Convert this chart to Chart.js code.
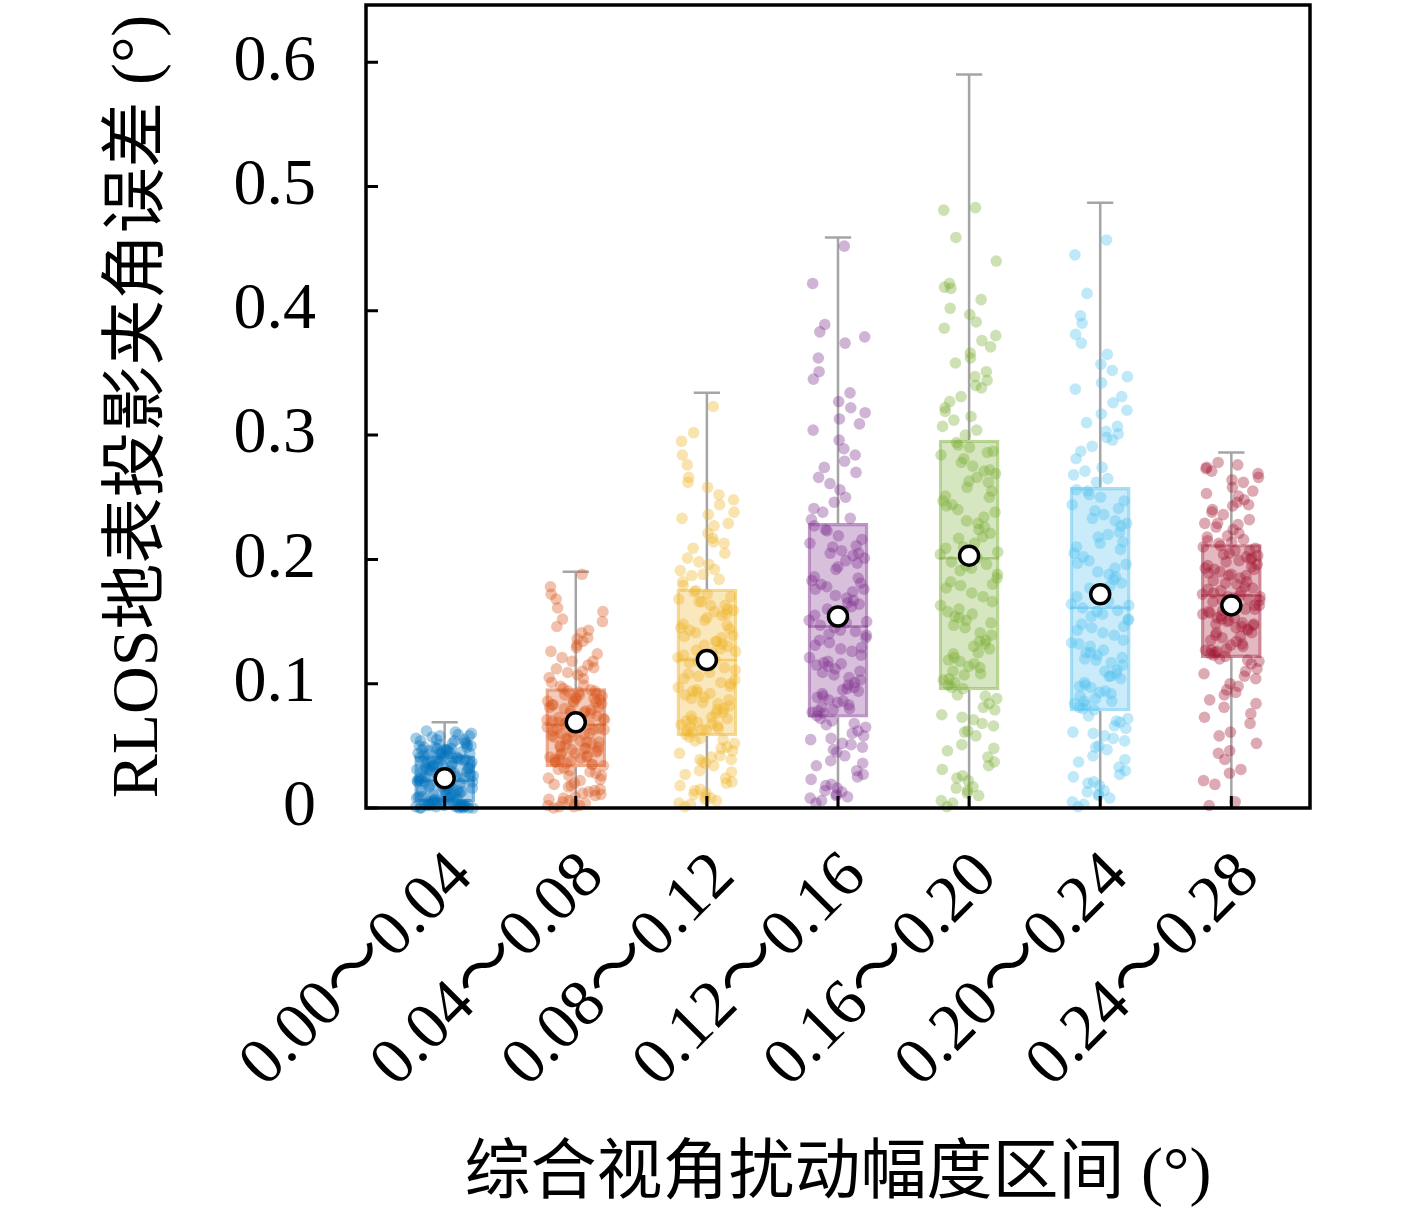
<!DOCTYPE html>
<html lang="zh">
<head>
<meta charset="UTF-8">
<title>RLOS地表投影夹角误差</title>
<script src="https://cdn.jsdelivr.net/npm/chart.js"></script>
<style>
    body { margin: 0; background: #fff; }
    #wrap { width: 1417px; height: 1217px; }
</style>
</head>
<body>
<div id="wrap"><canvas id="boxChart"></canvas></div>
<script>
    // categories (perturbation ranges) and box statistics
    const categories = ['0.00～0.04', '0.04～0.08', '0.08～0.12', '0.12～0.16', '0.16～0.20', '0.20～0.24', '0.24～0.28'];
    const yTicks = [0, 0.1, 0.2, 0.3, 0.4, 0.5, 0.6];
    const q1 = [0.005, 0.033, 0.058, 0.073, 0.095, 0.078, 0.121];
    const medians = [0.022, 0.067, 0.119, 0.146, 0.201, 0.161, 0.171];
    const q3 = [0.042, 0.096, 0.176, 0.229, 0.296, 0.258, 0.212];
    const whiskerLow = [0, 0, 0, 0, 0, 0, 0];
    const whiskerHigh = [0.069, 0.190, 0.334, 0.459, 0.590, 0.487, 0.286];
    const means = [0.024, 0.069, 0.119, 0.154, 0.203, 0.172, 0.163];

    // individual samples (estimated from the scattered dots)
    const pts1 = [0.001,0.034,0.003,0.052,0.018,0.000,0.041,0.007,0.027,0.046,0.002,0.013,0.058,0.021,0.004,0.037,0.049,0.010,0.030,0.001,0.055,0.016,0.044,0.005,0.024,
        0.039,0.000,0.061,0.011,0.032,0.047,0.003,0.020,0.043,0.008,0.036,0.002,0.053,0.026,0.014,0.040,0.004,0.050,0.019,0.031,0.001,0.045,0.009,0.028,0.057,
        0.003,0.023,0.042,0.012,0.035,0.000,0.048,0.017,0.038,0.005,0.054,0.025,0.006,0.044,0.015,0.033,0.002,0.051,0.022,0.040,0.004,0.029,0.047,0.009,0.059,
        0.001,0.037,0.019,0.043,0.003,0.026,0.050,0.012,0.034,0.000,0.046,0.021,0.039,0.005,0.056,0.016,0.030,0.002,0.042,0.024,0.008,0.049,0.035,0.004,0.062,
        0.002,0.027,0.044,0.006,0.033,0.051,0.013,0.038,0.000,0.048,0.021,0.030,0.003,0.055,0.017,0.041,0.001,0.035,0.058,0.010,0.025,0.045,0.004,0.031,0.052,
        0.019,0.039,0.002,0.047,0.014,0.028,0.060,0.008,0.036,0.000,0.043,0.023,0.054,0.005,0.032,0.018,0.049,0.003,0.040,0.026,0.011,0.046,0.001,0.034,0.022];
    const pts2 = [0.071,0.012,0.098,0.045,0.003,0.083,0.137,0.056,0.026,0.091,0.064,0.118,0.038,0.007,0.077,0.152,0.049,0.088,0.019,0.060,0.109,0.034,0.072,0.001,0.094,
        0.058,0.126,0.041,0.080,0.015,0.066,0.168,0.052,0.030,0.086,0.104,0.044,0.074,0.009,0.062,0.143,0.036,0.090,0.022,0.069,0.113,0.047,0.081,0.004,0.096,
        0.053,0.131,0.039,0.076,0.017,0.063,0.188,0.050,0.028,0.085,0.101,0.042,0.068,0.011,0.093,0.146,0.035,0.078,0.024,0.059,0.121,0.046,0.089,0.000,0.067,
        0.055,0.158,0.040,0.073,0.014,0.061,0.178,0.048,0.032,0.087,0.107,0.037,0.079,0.006,0.065,0.134,0.043,0.092,0.020,0.070,0.115,0.051,0.084,0.002,0.161,
        0.063,0.018,0.105,0.048,0.005,0.081,0.129,0.057,0.029,0.094,0.072,0.141,0.039,0.010,0.086,0.172,0.053,0.091,0.023,0.066,0.112,0.035,0.076,0.002,0.099,
        0.060,0.124,0.044,0.083,0.013,0.069,0.150,0.054,0.031,0.088,0.118,0.041,0.078,0.008,0.064,0.136,0.037,0.095,0.026,0.071,0.110,0.049,0.085,0.001,0.058];
    const pts3 = [0.121,0.034,0.187,0.072,0.009,0.148,0.252,0.095,0.046,0.163,0.108,0.213,0.063,0.018,0.134,0.302,0.082,0.172,0.027,0.101,0.198,0.052,0.125,0.003,0.156,
        0.089,0.233,0.066,0.141,0.039,0.114,0.276,0.077,0.056,0.168,0.192,0.061,0.130,0.012,0.104,0.244,0.069,0.159,0.041,0.117,0.205,0.085,0.145,0.006,0.174,
        0.098,0.221,0.059,0.137,0.030,0.111,0.323,0.074,0.049,0.151,0.182,0.064,0.127,0.021,0.092,0.262,0.080,0.166,0.044,0.119,0.209,0.087,0.153,0.001,0.128,
        0.106,0.238,0.068,0.143,0.024,0.115,0.295,0.079,0.054,0.170,0.196,0.062,0.132,0.015,0.097,0.227,0.071,0.160,0.036,0.123,0.184,0.093,0.139,0.008,0.266,
        0.113,0.037,0.191,0.076,0.011,0.144,0.258,0.091,0.048,0.166,0.103,0.217,0.065,0.020,0.131,0.284,0.084,0.175,0.029,0.109,0.201,0.055,0.122,0.004,0.158,
        0.094,0.229,0.063,0.138,0.042,0.118,0.248,0.073,0.057,0.163,0.188,0.067,0.134,0.014,0.100,0.236,0.070,0.155,0.039,0.126,0.214,0.088,0.147,0.007,0.179];
    const pts4 = [0.151,0.042,0.238,0.094,0.011,0.186,0.334,0.118,0.058,0.207,0.135,0.284,0.079,0.023,0.169,0.389,0.103,0.219,0.034,0.126,0.261,0.065,0.158,0.006,0.197,
        0.112,0.304,0.083,0.178,0.049,0.143,0.362,0.097,0.070,0.213,0.250,0.076,0.164,0.016,0.131,0.322,0.087,0.201,0.052,0.147,0.270,0.107,0.183,0.009,0.224,
        0.123,0.296,0.074,0.174,0.038,0.139,0.452,0.092,0.062,0.192,0.241,0.080,0.160,0.027,0.116,0.351,0.101,0.210,0.055,0.149,0.274,0.110,0.194,0.004,0.162,
        0.133,0.318,0.086,0.180,0.030,0.145,0.422,0.099,0.067,0.216,0.256,0.078,0.167,0.019,0.121,0.374,0.090,0.205,0.045,0.155,0.233,0.114,0.176,0.013,0.383,
        0.142,0.047,0.232,0.096,0.014,0.181,0.327,0.115,0.060,0.205,0.137,0.289,0.081,0.025,0.171,0.345,0.105,0.223,0.036,0.128,0.266,0.068,0.157,0.008,0.199,
        0.117,0.309,0.085,0.176,0.051,0.140,0.379,0.095,0.072,0.211,0.246,0.077,0.165,0.018,0.129,0.313,0.089,0.203,0.056,0.150,0.279,0.109,0.185,0.010,0.227];
    const pts5 = [0.204,0.058,0.312,0.128,0.014,0.251,0.409,0.160,0.079,0.275,0.182,0.351,0.107,0.031,0.229,0.459,0.139,0.290,0.046,0.170,0.331,0.088,0.213,0.004,0.262,
        0.151,0.386,0.113,0.240,0.066,0.193,0.422,0.132,0.096,0.284,0.304,0.101,0.221,0.022,0.177,0.376,0.118,0.269,0.071,0.198,0.344,0.145,0.247,0.010,0.294,
        0.166,0.366,0.099,0.234,0.051,0.188,0.483,0.124,0.084,0.258,0.322,0.108,0.217,0.037,0.156,0.402,0.135,0.281,0.075,0.201,0.358,0.149,0.263,0.001,0.218,
        0.179,0.440,0.116,0.244,0.041,0.195,0.481,0.134,0.091,0.287,0.315,0.104,0.226,0.026,0.163,0.391,0.121,0.272,0.062,0.209,0.338,0.153,0.238,0.017,0.418,
        0.196,0.061,0.307,0.125,0.016,0.255,0.397,0.158,0.081,0.278,0.185,0.347,0.110,0.034,0.231,0.419,0.141,0.292,0.048,0.173,0.327,0.090,0.210,0.006,0.266,
        0.154,0.371,0.114,0.243,0.068,0.191,0.380,0.130,0.097,0.286,0.300,0.103,0.224,0.024,0.180,0.362,0.119,0.271,0.073,0.206,0.340,0.147,0.250,0.012,0.319];
    const pts6 = [0.164,0.047,0.271,0.104,0.011,0.210,0.352,0.130,0.064,0.236,0.148,0.307,0.088,0.025,0.188,0.414,0.115,0.250,0.037,0.139,0.291,0.072,0.175,0.003,0.222,
        0.123,0.337,0.092,0.199,0.054,0.156,0.396,0.108,0.079,0.244,0.265,0.083,0.181,0.018,0.143,0.326,0.097,0.229,0.058,0.161,0.301,0.119,0.205,0.008,0.255,
        0.135,0.317,0.081,0.193,0.042,0.152,0.457,0.101,0.069,0.218,0.281,0.086,0.177,0.030,0.127,0.374,0.111,0.239,0.061,0.166,0.310,0.121,0.213,0.001,0.184,
        0.145,0.347,0.094,0.202,0.033,0.158,0.445,0.106,0.074,0.247,0.274,0.090,0.186,0.021,0.133,0.365,0.099,0.227,0.050,0.170,0.296,0.125,0.196,0.014,0.390,
        0.159,0.049,0.268,0.106,0.013,0.214,0.357,0.132,0.066,0.233,0.151,0.303,0.086,0.027,0.190,0.381,0.117,0.252,0.039,0.141,0.287,0.070,0.172,0.005,0.220,
        0.125,0.331,0.093,0.197,0.056,0.154,0.320,0.110,0.080,0.241,0.262,0.084,0.179,0.020,0.146,0.342,0.098,0.231,0.060,0.163,0.298,0.120,0.208,0.010,0.256];
    const pts7 = [0.172,0.098,0.226,0.141,0.046,0.195,0.262,0.155,0.112,0.207,0.166,0.244,0.128,0.073,0.185,0.278,0.148,0.214,0.087,0.160,0.236,0.118,0.180,0.019,0.200,
        0.151,0.253,0.132,0.190,0.104,0.169,0.271,0.144,0.122,0.210,0.221,0.126,0.177,0.061,0.158,0.248,0.137,0.203,0.093,0.173,0.232,0.150,0.193,0.031,0.213,
        0.163,0.258,0.124,0.187,0.081,0.167,0.276,0.139,0.116,0.205,0.218,0.130,0.175,0.052,0.153,0.240,0.143,0.198,0.108,0.171,0.229,0.147,0.188,0.002,0.178,
        0.159,0.266,0.134,0.192,0.068,0.170,0.273,0.146,0.120,0.209,0.224,0.127,0.182,0.039,0.156,0.251,0.141,0.201,0.100,0.176,0.216,0.152,0.196,0.005,0.183,
        0.168,0.095,0.229,0.138,0.044,0.192,0.264,0.157,0.110,0.204,0.163,0.246,0.125,0.076,0.187,0.274,0.149,0.211,0.084,0.162,0.238,0.119,0.181,0.022,0.199,
        0.153,0.255,0.131,0.189,0.106,0.167,0.269,0.145,0.123,0.207,0.219,0.127,0.174,0.058,0.160,0.243,0.135,0.202,0.091,0.170,0.228,0.148,0.194,0.028,0.215];
    const samples = [pts1, pts2, pts3, pts4, pts5, pts6, pts7];

    const colors = [[0, 114, 189], [217, 83, 25], [237, 177, 32], [126, 47, 142], [119, 172, 48], [77, 190, 238], [162, 20, 47]];
    const serif = "'Liberation Serif', 'Noto Sans CJK SC', serif";

    function rgba(c, a) { return `rgba(${c[0]}, ${c[1]}, ${c[2]}, ${a})`; }

    // sideways spread of the dots within the box width (layout only)
    function jitter(i) { return ((i * 0.6180339) % 1 - 0.5) * 0.44; }

    const datasets = [{
        type: 'bar',
        data: categories.map((c, i) => ({ x: i, y: [q1[i], q3[i]] })),
        backgroundColor: colors.map(c => rgba(c, 0.3)),
        borderColor: colors.map(c => rgba(c, 0.5)),
        borderWidth: 2.5,
        borderSkipped: false,
        barThickness: 60,
        order: 3
    }];
    samples.forEach((vals, k) => {
        datasets.push({
            type: 'scatter',
            data: vals.map((v, i) => ({ x: k + jitter(i), y: v })),
            backgroundColor: rgba(colors[k], 0.36),
            borderWidth: 0,
            pointRadius: 5.8,
            clip: false,
            order: 2
        });
    });
    datasets.push({
        type: 'scatter',
        data: means.map((m, i) => ({ x: i, y: m })),
        backgroundColor: '#fff',
        borderColor: '#000',
        borderWidth: 3.5,
        pointRadius: 9.5,
        clip: false,
        order: 1
    });

    // whiskers, medians, frame and inward ticks
    const boxParts = {
        id: 'boxParts',
        beforeDatasetsDraw(chart) {
            const { ctx, scales: { x, y } } = chart;
            ctx.save();
            ctx.strokeStyle = 'rgb(165, 165, 165)';
            ctx.lineWidth = 2.5;
            categories.forEach((c, i) => {
                const cx = x.getPixelForValue(i);
                const l = x.getPixelForValue(i - 0.1), r = x.getPixelForValue(i + 0.1);
                ctx.beginPath();
                ctx.moveTo(cx, y.getPixelForValue(q3[i]));
                ctx.lineTo(cx, y.getPixelForValue(whiskerHigh[i]));
                ctx.moveTo(l, y.getPixelForValue(whiskerHigh[i]));
                ctx.lineTo(r, y.getPixelForValue(whiskerHigh[i]));
                ctx.moveTo(cx, y.getPixelForValue(q1[i]));
                ctx.lineTo(cx, y.getPixelForValue(whiskerLow[i]));
                ctx.moveTo(l, y.getPixelForValue(whiskerLow[i]));
                ctx.lineTo(r, y.getPixelForValue(whiskerLow[i]));
                ctx.stroke();
            });
            ctx.restore();
        },
        afterDatasetDraw(chart, args) {
            if (args.index !== 0) return;
            const { ctx, scales: { y } } = chart;
            ctx.save();
            ctx.lineWidth = 2.5;
            categories.forEach((c, i) => {
                const bar = args.meta.data[i];
                const py = y.getPixelForValue(medians[i]);
                ctx.strokeStyle = rgba(colors[i], 0.5);
                ctx.beginPath();
                ctx.moveTo(bar.x - bar.width / 2, py);
                ctx.lineTo(bar.x + bar.width / 2, py);
                ctx.stroke();
            });
            ctx.restore();
        },
        afterDraw(chart) {
            const { ctx, chartArea: a, scales: { x, y } } = chart;
            ctx.save();
            ctx.strokeStyle = '#000';
            ctx.lineWidth = 3;
            ctx.beginPath();
            y.ticks.forEach(t => {
                const py = y.getPixelForValue(t.value);
                ctx.moveTo(a.left, py);
                ctx.lineTo(a.left + 12, py);
            });
            x.ticks.forEach(t => {
                const px = x.getPixelForValue(t.value);
                ctx.moveTo(px, a.bottom);
                ctx.lineTo(px, a.bottom - 12);
            });
            ctx.stroke();
            ctx.lineWidth = 3.5;
            ctx.strokeRect(a.left, a.top, a.right - a.left, a.bottom - a.top);
            ctx.restore();
        }
    };

    new Chart(document.getElementById('boxChart'), {
        type: 'bar',
        data: { datasets: datasets },
        options: {
            responsive: true,
            maintainAspectRatio: false,
            animation: false,
            layout: { autoPadding: false, padding: { left: 0, right: 107, top: 5, bottom: 0 } },
            plugins: { legend: { display: false }, tooltip: { enabled: false } },
            scales: {
                x: {
                    type: 'linear',
                    min: -0.6,
                    max: 6.6,
                    offset: false,
                    grid: { display: false, drawTicks: false },
                    border: { display: false },
                    afterBuildTicks: s => { s.ticks = categories.map((c, i) => ({ value: i })); },
                    afterFit: s => {
                        s.height = 409;
                        s.paddingLeft = 0; s.paddingRight = 0;
                        s.paddingTop = 0; s.paddingBottom = 0;
                    },
                    ticks: {
                        minRotation: 45,
                        maxRotation: 45,
                        padding: 30,
                        labelOffset: 18,
                        color: '#000',
                        font: { family: serif, size: 66 },
                        callback: v => categories[v]
                    },
                    title: {
                        display: true,
                        text: '综合视角扰动幅度区间 (°)',
                        color: '#000',
                        font: { family: serif, size: 66 },
                        padding: { top: 2, bottom: 2 }
                    }
                },
                y: {
                    min: 0,
                    max: 0.646,
                    grid: { display: false, drawTicks: false },
                    border: { display: false },
                    afterBuildTicks: s => { s.ticks = yTicks.map(v => ({ value: v })); },
                    afterFit: s => {
                        s.width = 366;
                        s.paddingLeft = 0; s.paddingRight = 0;
                        s.paddingTop = 0; s.paddingBottom = 0;
                    },
                    ticks: {
                        padding: 50,
                        color: '#000',
                        font: { family: serif, size: 66 },
                        callback: v => v === 0 ? '0' : v.toFixed(1)
                    },
                    title: {
                        display: true,
                        text: 'RLOS地表投影夹角误差 (°)',
                        color: '#000',
                        font: { family: serif, size: 66 },
                        padding: { top: 100, bottom: 0 }
                    }
                }
            }
        },
        plugins: [boxParts]
    });
</script>
</body>
</html>
